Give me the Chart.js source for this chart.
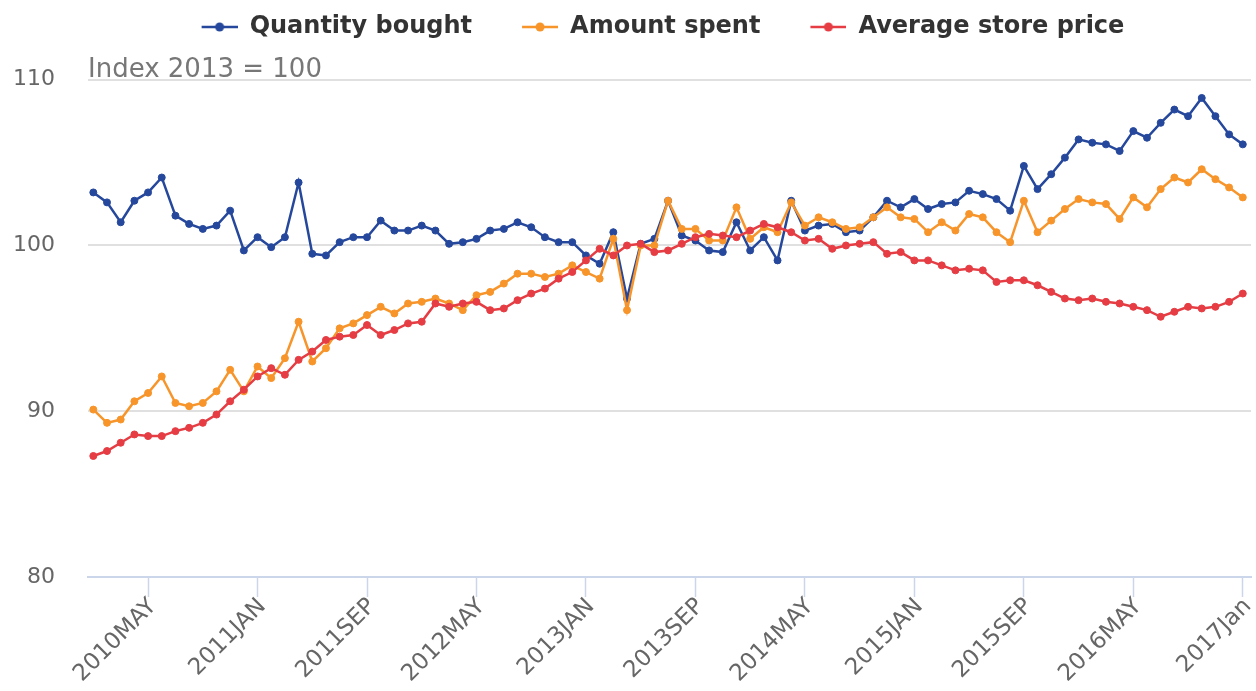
<!DOCTYPE html>
<html>
<head>
<meta charset="utf-8">
<script src="https://cdn.jsdelivr.net/npm/chart.js@4"></script>
<style>
  html, body { margin: 0; padding: 0; background: #fff; }
  #wrap { width: 1256px; height: 691px; }
</style>
</head>
<body>
<div id="wrap"><canvas id="myChart"></canvas></div>
<script>
// months Jan 2010 .. Jan 2017
const years = [2010, 2011, 2012, 2013, 2014, 2015, 2016, 2017];
const months = ['JAN', 'FEB', 'MAR', 'APR', 'MAY', 'JUN', 'JUL', 'AUG', 'SEP', 'OCT', 'NOV', 'DEC'];
const categories = [];
years.forEach(function (y) {
    months.forEach(function (m) {
        if (y < 2017 || m === 'JAN') categories.push(y + m);
    });
});
categories[categories.length - 1] = '2017Jan';

const tickLabels = ['2010MAY', '2011JAN', '2011SEP', '2012MAY', '2013JAN', '2013SEP',
    '2014MAY', '2015JAN', '2015SEP', '2016MAY', '2017Jan'];

const quantityBought = [
    103.2, 102.6, 101.4, 102.7, 103.2, 104.1, 101.8, 101.3, 101.0, 101.2,
    102.1, 99.7, 100.5, 99.9, 100.5, 103.8, 99.5, 99.4, 100.2, 100.5,
    100.5, 101.5, 100.9, 100.9, 101.2, 100.9, 100.1, 100.2, 100.4, 100.9,
    101.0, 101.4, 101.1, 100.5, 100.2, 100.2, 99.4, 98.9, 100.8, 96.8,
    100.1, 100.4, 102.7, 100.6, 100.3, 99.7, 99.6, 101.4, 99.7, 100.5,
    99.1, 102.7, 100.9, 101.2, 101.3, 100.8, 100.9, 101.7, 102.7, 102.3,
    102.8, 102.2, 102.5, 102.6, 103.3, 103.1, 102.8, 102.1, 104.8, 103.4,
    104.3, 105.3, 106.4, 106.2, 106.1, 105.7, 106.9, 106.5, 107.4, 108.2,
    107.8, 108.9, 107.8, 106.7, 106.1
];

const amountSpent = [
    90.1, 89.3, 89.5, 90.6, 91.1, 92.1, 90.5, 90.3, 90.5, 91.2,
    92.5, 91.2, 92.7, 92.0, 93.2, 95.4, 93.0, 93.8, 95.0, 95.3,
    95.8, 96.3, 95.9, 96.5, 96.6, 96.8, 96.5, 96.1, 97.0, 97.2,
    97.7, 98.3, 98.3, 98.1, 98.3, 98.8, 98.4, 98.0, 100.4, 96.1,
    100.0, 100.0, 102.7, 101.0, 101.0, 100.3, 100.3, 102.3, 100.4, 101.1,
    100.8, 102.6, 101.2, 101.7, 101.4, 101.0, 101.1, 101.7, 102.3, 101.7,
    101.6, 100.8, 101.4, 100.9, 101.9, 101.7, 100.8, 100.2, 102.7, 100.8,
    101.5, 102.2, 102.8, 102.6, 102.5, 101.6, 102.9, 102.3, 103.4, 104.1,
    103.8, 104.6, 104.0, 103.5, 102.9
];

const storePrice = [
    87.3, 87.6, 88.1, 88.6, 88.5, 88.5, 88.8, 89.0, 89.3, 89.8,
    90.6, 91.3, 92.1, 92.6, 92.2, 93.1, 93.6, 94.3, 94.5, 94.6,
    95.2, 94.6, 94.9, 95.3, 95.4, 96.5, 96.3, 96.5, 96.6, 96.1,
    96.2, 96.7, 97.1, 97.4, 98.0, 98.4, 99.1, 99.8, 99.4, 100.0,
    100.1, 99.6, 99.7, 100.1, 100.5, 100.7, 100.6, 100.5, 100.9, 101.3,
    101.1, 100.8, 100.3, 100.4, 99.8, 100.0, 100.1, 100.2, 99.5, 99.6,
    99.1, 99.1, 98.8, 98.5, 98.6, 98.5, 97.8, 97.9, 97.9, 97.6,
    97.2, 96.8, 96.7, 96.8, 96.6, 96.5, 96.3, 96.1, 95.7, 96.0,
    96.3, 96.2, 96.3, 96.6, 97.1
];

const BLUE = '#26489c';
const ORANGE = '#f7952b';
const RED = '#e53d43';

Chart.defaults.font.family = "'DejaVu Sans', sans-serif";

const tickIndexes = tickLabels.map(function (l) { return categories.indexOf(l); });

function toXY(arr) {
    return arr.map(function (v, i) { return { x: i, y: v }; });
}

// legend marker: short line with a dot, left part transparent for spacing
function makeMarker(color) {
    const c = document.createElement('canvas');
    c.width = 76;
    c.height = 12;
    const g = c.getContext('2d');
    g.strokeStyle = color;
    g.lineWidth = 2.5;
    g.beginPath();
    g.moveTo(40, 6);
    g.lineTo(76, 6);
    g.stroke();
    g.fillStyle = color;
    g.beginPath();
    g.arc(58, 6, 4.5, 0, Math.PI * 2);
    g.fill();
    return c;
}
const markers = [makeMarker(BLUE), makeMarker(ORANGE), makeMarker(RED)];

// nudge the legend row a little to the right, like the original
const legendShift = {
    id: 'legendShift',
    afterLayout: function (chart) {
        chart.legend.left += 25;
        chart.legend.right += 25;
    }
};

function lineSet(label, values, color, order) {
    return {
        label: label,
        data: toXY(values),
        borderColor: color,
        backgroundColor: color,
        pointBackgroundColor: color,
        pointBorderColor: color,
        borderWidth: 2.5,
        pointRadius: 3.5,
        pointBorderWidth: 1,
        pointHoverRadius: 4,
        tension: 0,
        order: order
    };
}

const config = {
    type: 'line',
    data: {
        datasets: [
            lineSet('Quantity bought', quantityBought, BLUE, 3),
            lineSet('Amount spent', amountSpent, ORANGE, 2),
            lineSet('Average store price', storePrice, RED, 1)
        ]
    },
    options: {
        responsive: true,
        maintainAspectRatio: false,
        animation: false,
        layout: { padding: { left: -20, top: 5, right: 0, bottom: 0 } },
        plugins: {
            legend: {
                position: 'top',
                labels: {
                    usePointStyle: true,
                    pointStyleWidth: 76,
                    padding: 10,
                    color: '#333',
                    font: { size: 24, weight: 'bold' },
                    sort: function (a, b) { return a.datasetIndex - b.datasetIndex; },
                    generateLabels: function (chart) {
                        const items = Chart.defaults.plugins.legend.labels.generateLabels(chart);
                        items.forEach(function (it) { it.pointStyle = markers[it.datasetIndex]; });
                        return items;
                    }
                }
            },
            subtitle: {
                display: true,
                text: 'Index 2013 = 100',
                align: 'start',
                fullSize: false,
                weight: 500,
                color: '#777',
                font: { size: 26, weight: 'normal', lineHeight: 0.72 },
                padding: { top: 12, bottom: 0 }
            },
            tooltip: { enabled: false }
        },
        scales: {
            x: {
                type: 'linear',
                bounds: 'data',
                min: -0.39,
                max: 84.6,
                afterBuildTicks: function (scale) {
                    scale.ticks = tickIndexes.map(function (v) { return { value: v }; });
                },
                afterFit: function (scale) {
                    scale.height = 114;
                    scale.paddingLeft = 0;
                    scale.paddingRight = 0;
                },
                ticks: {
                    autoSkip: false,
                    minRotation: 45,
                    maxRotation: 45,
                    padding: -4,
                    labelOffset: 5,
                    color: '#666',
                    font: { size: 23 },
                    callback: function (v) { return categories[v]; }
                },
                grid: {
                    drawOnChartArea: false,
                    drawTicks: true,
                    tickLength: 20,
                    tickColor: '#ccd6eb',
                    tickWidth: 1.5
                },
                border: { color: '#ccd6eb', width: 2 }
            },
            y: {
                min: 80,
                max: 110,
                ticks: {
                    stepSize: 10,
                    padding: 33,
                    color: '#666',
                    font: { size: 22 }
                },
                grid: {
                    color: function (ctx) { return ctx.tick && ctx.tick.value === 80 ? 'rgba(0,0,0,0)' : '#e0e0e0'; },
                    lineWidth: 2,
                    drawTicks: false
                },
                border: { display: false }
            }
        }
    },
    plugins: [legendShift]
};

const myChart = new Chart(document.getElementById('myChart'), config);
</script>
</body>
</html>
